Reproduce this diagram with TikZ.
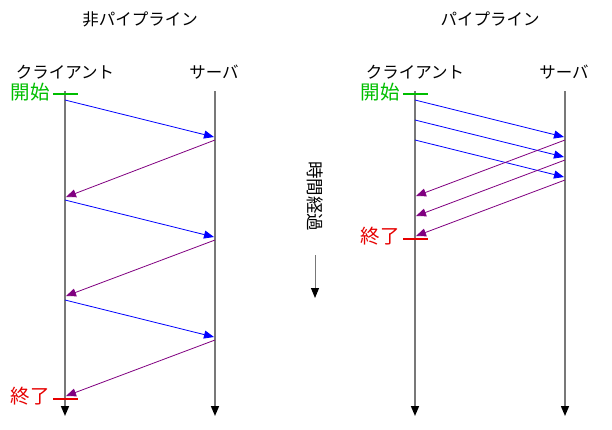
\documentclass[tikz,border=0pt]{standalone}
\usepackage{fontspec}
\setmainfont{Noto Sans CJK JP}
\usetikzlibrary{arrows.meta}
\definecolor{lifegray}{RGB}{120,120,120}
\definecolor{startgreen}{RGB}{0,190,0}
\definecolor{endred}{RGB}{230,0,0}
\definecolor{msgblue}{RGB}{0,0,255}
\definecolor{msgpurple}{RGB}{128,0,128}
\tikzset{
  lbl/.style={font=\fontsize{16.5}{17}\selectfont, inner sep=0pt},
  klbl/.style={font=\fontsize{19.5}{20}\selectfont, inner sep=0pt},
  lifeline/.style={draw=lifegray, line width=1.5pt, -{Triangle[length=10pt,width=8pt,fill=black,color=black]}},
  req/.style={draw=msgblue, line width=0.8pt, -{Triangle[length=10pt,width=8pt]}},
  resp/.style={draw=msgpurple, line width=0.8pt, -{Triangle[length=10pt,width=8pt]}},
  starttick/.style={draw=startgreen, line width=1.8pt},
  endtick/.style={draw=endred, line width=1.8pt},
}
\begin{document}
\begin{tikzpicture}[x=1pt,y=-1pt]
\useasboundingbox (0,0) rectangle (612,429);
% titles
\node[lbl] (t1) at (140,19) {非パイプライン};
\node[lbl] (t2) at (490,19) {パイプライン};
% headers
\node[lbl] (c1) at (65,72) {クライアント};
\node[lbl] (s1) at (214,72) {サーバ};
\node[lbl] (c2) at (415,72) {クライアント};
\node[lbl] (s2) at (564,72) {サーバ};
% lifelines
\coordinate (c1top) at (65,91); \coordinate (c1bot) at (65,416);
\coordinate (s1top) at (215,91); \coordinate (s1bot) at (215,416);
\coordinate (c2top) at (415,91); \coordinate (c2bot) at (415,416);
\coordinate (s2top) at (565,91); \coordinate (s2bot) at (565,416);
\draw[lifeline] (c1top) -- (c1bot);
\draw[lifeline] (s1top) -- (s1bot);
\draw[lifeline] (c2top) -- (c2bot);
\draw[lifeline] (s2top) -- (s2bot);
% start/end markers left
\coordinate (g1a) at (53,94); \coordinate (g1b) at (78,94);
\draw[starttick] (g1a) -- (g1b);
\node[klbl, text=startgreen, anchor=east] (st1) at (50,92) {開始};
\coordinate (r1a) at (53,399); \coordinate (r1b) at (78,399);
\draw[endtick] (r1a) -- (r1b);
\node[klbl, text=endred, anchor=east] (en1) at (50,396) {終了};
% start/end markers right
\coordinate (g2a) at (403,94); \coordinate (g2b) at (428,94);
\draw[starttick] (g2a) -- (g2b);
\node[klbl, text=startgreen, anchor=east] (st2) at (400,92) {開始};
\coordinate (r2a) at (403,239); \coordinate (r2b) at (428,239);
\draw[endtick] (r2a) -- (r2b);
\node[klbl, text=endred, anchor=east] (en2) at (400,236) {終了};
% non-pipeline messages
\coordinate (a1) at (65,100);  \coordinate (b1) at (214,137);
\coordinate (a2) at (215,140); \coordinate (b2) at (66,197);
\coordinate (a3) at (65,200);  \coordinate (b3) at (214,237);
\coordinate (a4) at (215,240); \coordinate (b4) at (66,296);
\coordinate (a5) at (65,300);  \coordinate (b5) at (214,337);
\coordinate (a6) at (215,340); \coordinate (b6) at (66,396);
\draw[req] (a1) -- (b1);
\draw[resp] (a2) -- (b2);
\draw[req] (a3) -- (b3);
\draw[resp] (a4) -- (b4);
\draw[req] (a5) -- (b5);
\draw[resp] (a6) -- (b6);
% pipeline messages
\coordinate (p1) at (415,100); \coordinate (q1) at (564,137);
\coordinate (p2) at (415,120); \coordinate (q2) at (564,157);
\coordinate (p3) at (415,140); \coordinate (q3) at (564,177);
\coordinate (u1) at (565,140); \coordinate (v1) at (416,196);
\coordinate (u2) at (565,160); \coordinate (v2) at (416,216);
\coordinate (u3) at (565,180); \coordinate (v3) at (416,236);
\draw[req] (p1) -- (q1);
\draw[req] (p2) -- (q2);
\draw[req] (p3) -- (q3);
\draw[resp] (u1) -- (v1);
\draw[resp] (u2) -- (v2);
\draw[resp] (u3) -- (v3);
% time axis
\node[lbl, font=\fontsize{17.5}{18}\selectfont, rotate=-90] (time) at (315,196) {時間経過};
\coordinate (ta) at (315,255); \coordinate (tb) at (315,298);
\draw[draw=lifegray, line width=1pt, -{Triangle[length=10pt,width=8pt,fill=black,color=black]}] (ta) -- (tb);
\end{tikzpicture}
\end{document}
